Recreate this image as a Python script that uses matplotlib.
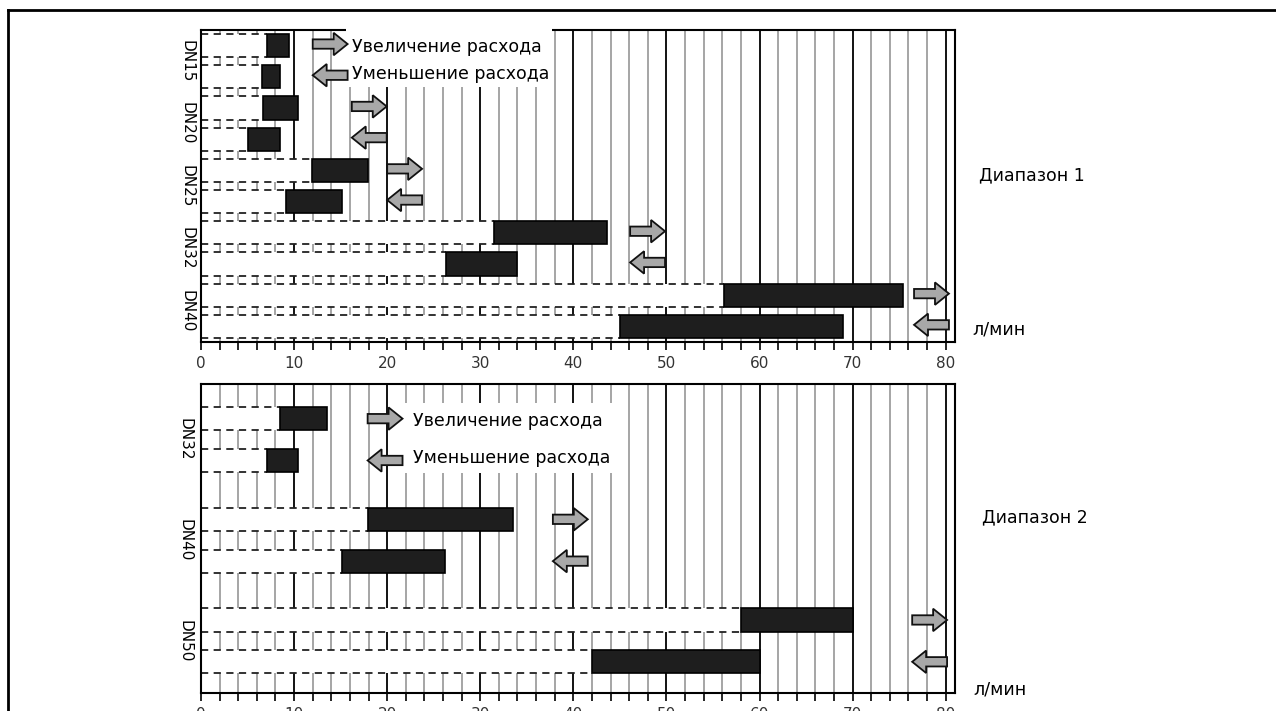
import matplotlib.pyplot as plt
from matplotlib.patches import Rectangle, Polygon
from matplotlib.lines import Line2D

# Диапазон 1: границы переключения (л/мин), верхняя полоса - увеличение расхода, нижняя - уменьшение
d1_names = ['DN15', 'DN20', 'DN25', 'DN32', 'DN40']
d1_up_start = [7.1, 6.7, 11.9, 31.5, 56.2]
d1_up_end = [9.5, 10.4, 17.9, 43.6, 75.4]
d1_down_start = [6.5, 5.0, 9.1, 26.3, 45.0]
d1_down_end = [8.5, 8.5, 15.2, 33.9, 69.0]

# Диапазон 2
d2_names = ['DN32', 'DN40', 'DN50']
d2_up_start = [8.5, 17.9, 58.0]
d2_up_end = [13.5, 33.5, 70.0]
d2_down_start = [7.1, 15.1, 42.0]
d2_down_end = [10.4, 26.2, 60.0]

xtick_labels = ['0', '10', '20', '30', '40', '50', '60', '70', '80']

# где рисовать стрелки (начало стрелки по оси x)
arrow_x1 = [12.0, 16.2, 20.0, 46.1, 76.6]
arrow_x2 = [17.9, 37.8, 76.4]

W, H = 1276, 711
fig = plt.figure(figsize=(W / 100, H / 100), dpi=100)
fig.patch.set_facecolor('white')

ax1 = fig.add_axes([201 / W, 1 - 342 / H, 754 / W, 312 / H])
ax2 = fig.add_axes([201 / W, 1 - 693 / H, 754 / W, 309 / H])

bar_h = 0.74


def arrow(ax, x, y, right):
    L, hl, sh, hh = 3.75, 1.5, 0.15, 0.36
    if right:
        pts = [(x, y - sh), (x + L - hl, y - sh), (x + L - hl, y - hh), (x + L, y),
               (x + L - hl, y + hh), (x + L - hl, y + sh), (x, y + sh)]
    else:
        pts = [(x + L, y - sh), (x + hl, y - sh), (x + hl, y - hh), (x, y),
               (x + hl, y + hh), (x + hl, y + sh), (x + L, y + sh)]
    ax.add_patch(Polygon(pts, closed=True, fc='#a8a8a8', ec='#111111', lw=1.3, zorder=5))


def draw_bar(ax, yc, start, end):
    # белая "подложка" слева от полосы с пунктирными краями
    ax.add_patch(Rectangle((0, yc - bar_h / 2), start, bar_h, fc='white', ec='none', zorder=2))
    ax.hlines([yc - bar_h / 2, yc + bar_h / 2], 0, start, colors='#222222',
              linestyles=(0, (4, 3)), lw=1.3, zorder=2.2)
    ax.barh(yc, end - start, left=start, height=bar_h, color='#1e1e1e',
            edgecolor='black', lw=1.2, zorder=3)


def setup(ax, ymax):
    ax.set_xlim(0, 81)
    ax.set_ylim(ymax, 0)
    for x in range(2, 81, 2):
        if x % 10 == 0:
            ax.axvline(x, color='black', lw=1.3, zorder=1)
        else:
            ax.axvline(x, color='#a5a5a5', lw=1.4, zorder=1)
    ax.set_xticks(range(0, 81, 2))
    ax.set_xticklabels([xtick_labels[i // 10] if i % 10 == 0 else '' for i in range(0, 81, 2)])
    ax.tick_params(axis='x', direction='out', length=6, width=1.2, pad=4,
                   labelsize=11, labelcolor='#333333')
    ax.set_yticks([])
    for s in ax.spines.values():
        s.set_linewidth(1.5)
        s.set_color('black')


setup(ax1, 10)
setup(ax2, 9.9)

# верхний график
for g, name in enumerate(d1_names):
    y_up = 2 * g + 0.5
    y_dn = 2 * g + 1.5
    draw_bar(ax1, y_up, d1_up_start[g], d1_up_end[g])
    draw_bar(ax1, y_dn, d1_down_start[g], d1_down_end[g])
    arrow(ax1, arrow_x1[g], y_up - 0.05, True)
    arrow(ax1, arrow_x1[g], y_dn - 0.05, False)
    ax1.text(-1.5, 2 * g + 1, name, rotation=270, ha='center', va='center',
             fontsize=11, clip_on=False)

ax1.add_patch(Rectangle((15.6, -0.5), 22.1, 2.33, fc='white', ec='none',
                        zorder=4, clip_on=False))
ax1.text(16.2, 0.55, 'Увеличение расхода', fontsize=12.5, va='center', zorder=6)
ax1.text(16.2, 1.42, 'Уменьшение расхода', fontsize=12.5, va='center', zorder=6)

# нижний график
for g, name in enumerate(d2_names):
    gc = 1.78 + 3.225 * g
    y_up = gc - 0.67
    y_dn = gc + 0.67
    draw_bar(ax2, y_up, d2_up_start[g], d2_up_end[g])
    draw_bar(ax2, y_dn, d2_down_start[g], d2_down_end[g])
    arrow(ax2, arrow_x2[g], y_up, True)
    arrow(ax2, arrow_x2[g], y_dn, False)
    ax2.text(-1.7, gc, name, rotation=270, ha='center', va='center',
             fontsize=11, clip_on=False)

ax2.add_patch(Rectangle((21.9, 0.61), 22.3, 2.24, fc='white', ec='none', zorder=4))
ax2.text(22.8, 1.2, 'Увеличение расхода', fontsize=12.5, va='center', zorder=6)
ax2.text(22.8, 2.36, 'Уменьшение расхода', fontsize=12.5, va='center', zorder=6)

# подписи справа
fig.text(979 / W, 1 - 175 / H, 'Диапазон 1', fontsize=12.5, va='center')
fig.text(972 / W, 1 - 330 / H, 'л/мин', fontsize=12.5, va='center')
fig.text(982 / W, 1 - 517 / H, 'Диапазон 2', fontsize=12.5, va='center')
fig.text(973 / W, 1 - 690 / H, 'л/мин', fontsize=12.5, va='center')

# рамка
fig.add_artist(Line2D([8 / W, 1], [1 - 10 / H, 1 - 10 / H], color='black', lw=2))
fig.add_artist(Line2D([8 / W, 8 / W], [0, 1 - 10 / H], color='black', lw=2))

fig.savefig('out.png', dpi=100)
